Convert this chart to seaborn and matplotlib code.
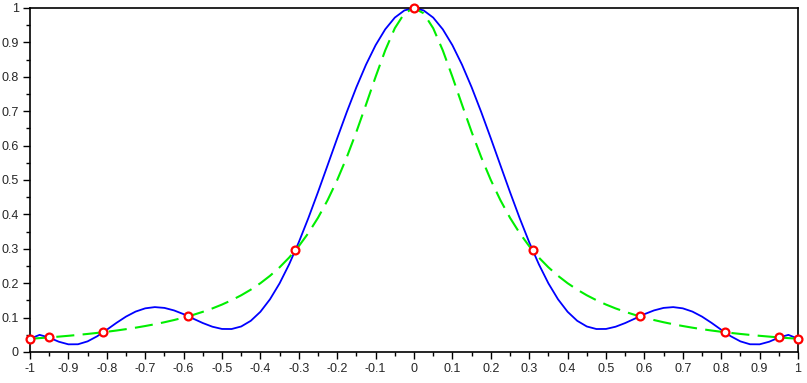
import matplotlib
matplotlib.use("Agg")
import matplotlib.pyplot as plt
import seaborn as sns
import pandas as pd
from matplotlib.ticker import MultipleLocator

# sample positions of both curves
xs = [-1.0, -0.975, -0.95, -0.925, -0.9, -0.875, -0.85, -0.825, -0.8, -0.775,
      -0.75, -0.725, -0.7, -0.675, -0.65, -0.625, -0.6, -0.575, -0.55, -0.525,
      -0.5, -0.475, -0.45, -0.425, -0.4, -0.375, -0.35, -0.325, -0.3, -0.275,
      -0.25, -0.225, -0.2, -0.175, -0.15, -0.125, -0.1, -0.075, -0.05, -0.025,
      0.0, 0.025, 0.05, 0.075, 0.1, 0.125, 0.15, 0.175, 0.2, 0.225,
      0.25, 0.275, 0.3, 0.325, 0.35, 0.375, 0.4, 0.425, 0.45, 0.475,
      0.5, 0.525, 0.55, 0.575, 0.6, 0.625, 0.65, 0.675, 0.7, 0.725,
      0.75, 0.775, 0.8, 0.825, 0.85, 0.875, 0.9, 0.925, 0.95, 0.975, 1.0]

# blue solid curve (interpolating polynomial)
blue_y = [0.0385, 0.0498, 0.0419, 0.0299, 0.0223, 0.0225, 0.0309, 0.0458, 0.0647, 0.0846,
          0.1029, 0.1175, 0.1269, 0.1305, 0.1282, 0.1209, 0.1100, 0.0970, 0.0842, 0.0735,
          0.0670, 0.0668, 0.0742, 0.0907, 0.1169, 0.1533, 0.1996, 0.2553, 0.3191, 0.3896,
          0.4649, 0.5429, 0.6213, 0.6977, 0.7698, 0.8352, 0.8919, 0.9380, 0.9721, 0.9930,
          1.0,
          0.9930, 0.9721, 0.9380, 0.8919, 0.8352, 0.7698, 0.6977, 0.6213, 0.5429,
          0.4649, 0.3896, 0.3191, 0.2553, 0.1996, 0.1533, 0.1169, 0.0907, 0.0742, 0.0668,
          0.0670, 0.0735, 0.0842, 0.0970, 0.1100, 0.1209, 0.1282, 0.1305, 0.1269, 0.1175,
          0.1029, 0.0846, 0.0647, 0.0458, 0.0309, 0.0225, 0.0223, 0.0299, 0.0419, 0.0498, 0.0385]

# green dashed curve
green_y = [0.0385, 0.0404, 0.0424, 0.0447, 0.0471, 0.0497, 0.0525, 0.0555, 0.0588, 0.0624,
           0.0664, 0.0707, 0.0755, 0.0807, 0.0865, 0.0929, 0.1000, 0.1079, 0.1168, 0.1267,
           0.1379, 0.1506, 0.1649, 0.1813, 0.2000, 0.2215, 0.2462, 0.2747, 0.3077, 0.3459,
           0.3902, 0.4414, 0.5000, 0.5664, 0.6400, 0.7191, 0.8000, 0.8767, 0.9412, 0.9846,
           1.0,
           0.9846, 0.9412, 0.8767, 0.8000, 0.7191, 0.6400, 0.5664, 0.5000, 0.4414,
           0.3902, 0.3459, 0.3077, 0.2747, 0.2462, 0.2215, 0.2000, 0.1813, 0.1649, 0.1506,
           0.1379, 0.1267, 0.1168, 0.1079, 0.1000, 0.0929, 0.0865, 0.0807, 0.0755, 0.0707,
           0.0664, 0.0624, 0.0588, 0.0555, 0.0525, 0.0497, 0.0471, 0.0447, 0.0424, 0.0404, 0.0385]

# red nodes
node_x = [-1.0, -0.951, -0.809, -0.588, -0.309, 0.0, 0.309, 0.588, 0.809, 0.951, 1.0]
node_y = [0.0385, 0.0424, 0.0576, 0.1038, 0.2952, 1.0, 0.2952, 0.1038, 0.0576, 0.0424, 0.0385]

sns.set_style("ticks")
plt.rcParams['font.family'] = ['Liberation Sans', 'DejaVu Sans']
plt.rcParams['lines.scale_dashes'] = False

fig = plt.figure(figsize=(8.07, 3.83), dpi=100)
ax = fig.add_axes([30 / 807, 31 / 383, 768 / 807, 344 / 383])

df = pd.DataFrame({"x": xs, "blue": blue_y, "green": green_y})
sns.lineplot(data=df, x="x", y="blue", sort=False, color="#0000ff", lw=1.3, ax=ax)
sns.lineplot(data=df, x="x", y="green", sort=False, color="#00ee00", lw=1.5, ax=ax)
ax.lines[-1].set_dashes((13, 6))
sns.scatterplot(x=node_x, y=node_y, ax=ax, s=32, facecolor="white",
                edgecolor="#ff0000", linewidth=1.6, zorder=5, clip_on=False)

ax.set_xlim(-1, 1)
ax.set_ylim(0, 1)
ax.xaxis.set_major_locator(MultipleLocator(0.1))
ax.xaxis.set_minor_locator(MultipleLocator(0.05))
ax.yaxis.set_major_locator(MultipleLocator(0.1))
ax.yaxis.set_minor_locator(MultipleLocator(0.05))
fmt = plt.FuncFormatter(lambda v, p: f"{v:g}" if abs(v) > 1e-9 else "0")
ax.xaxis.set_major_formatter(fmt)
ax.yaxis.set_major_formatter(fmt)
ax.tick_params(which="major", length=5, width=1, labelsize=9, pad=3, color="black")
ax.tick_params(which="minor", length=3, width=1, color="black")
ax.set_xlabel("")
ax.set_ylabel("")
for s in ax.spines.values():
    s.set_linewidth(1.2)
    s.set_color("black")

fig.savefig("out.png", dpi=100)
